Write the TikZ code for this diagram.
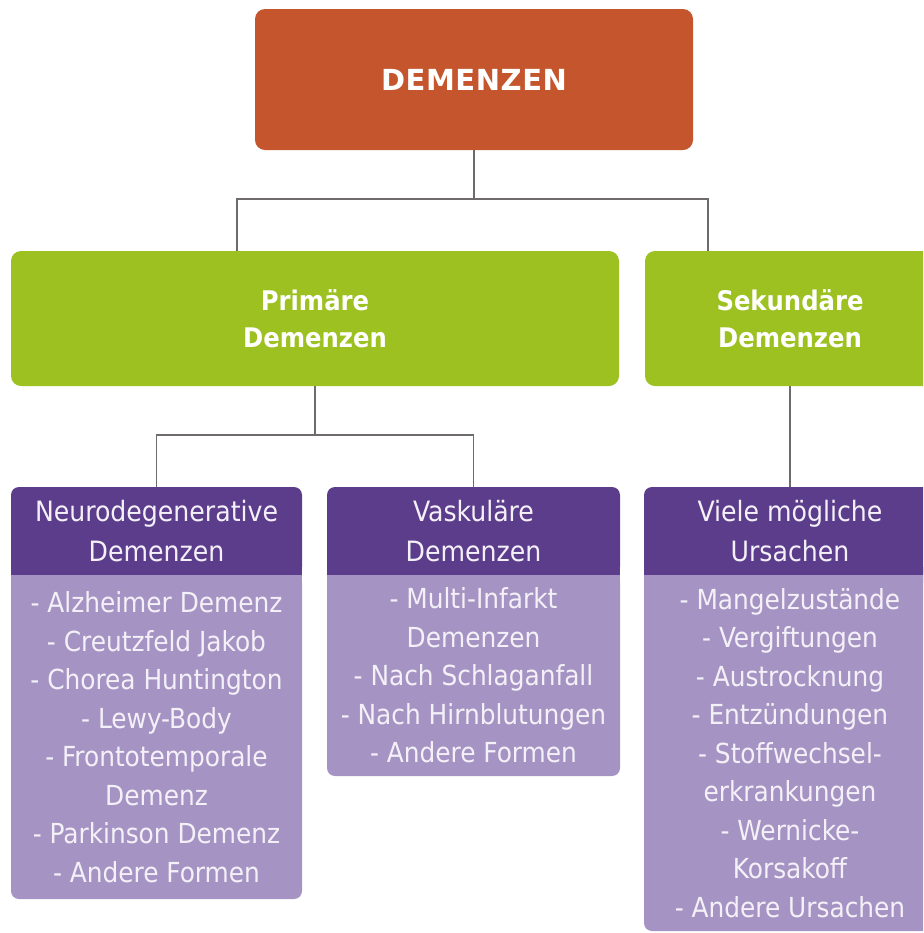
\documentclass[tikz,border=0pt]{standalone}
\usepackage{fontspec}
\setmainfont{DejaVu Sans Condensed}
\newfontfamily\titlefont[LetterSpace=2]{DejaVu Sans}
\usetikzlibrary{positioning}
\definecolor{demorange}{HTML}{C4552C}
\definecolor{demgreen}{HTML}{9DC120}
\definecolor{hdpurple}{HTML}{5C3D8C}
\definecolor{bdpurple}{HTML}{A594C3}
\definecolor{conngray}{HTML}{6E6A6E}
\definecolor{txtlight}{HTML}{F4F0F8}

\begin{document}
\begin{tikzpicture}[x=0.5pt,y=-0.5pt,
  every node/.style={align=center,inner sep=0pt,outer sep=0pt},
  topbox/.style={fill=demorange,rounded corners=5pt,text=white,
    font=\titlefont\bfseries\fontsize{14.5}{18}\selectfont},
  grbox/.style={fill=demgreen,rounded corners=5pt,minimum height=67.5pt,
    text=white,font=\bfseries\fontsize{13.5}{18.5}\selectfont},
  hdbox/.style={fill=hdpurple,rounded corners=4pt,minimum height=44pt,
    text=txtlight,font=\fontsize{14}{20}\selectfont},
  bdbox/.style={fill=bdpurple,rounded corners=4pt,text=txtlight,
    font=\fontsize{13.8}{19.25}\selectfont},
  conn/.style={draw=conngray,line width=0.6pt}
]
  \useasboundingbox (0,0) rectangle (923,933);
  \clip (0,0) rectangle (923,933);

  % top level
  \node[topbox,minimum width=219pt,minimum height=70.5pt] (dem) at (474,79.5)
    {DEMENZEN};

  % second level
  \node[grbox,minimum width=304pt] (prim) at (315,318.5) {Primäre\\Demenzen};
  \node[grbox,minimum width=145pt] (sek) at (790,318.5) {Sekundäre\\Demenzen};

  % third level: headers
  \node[hdbox,minimum width=145.5pt] (neurohd) at (156.5,531)
    {Neurodegenerative\\Demenzen};
  \node[hdbox,minimum width=146.5pt] (vaskhd) at (473.5,531)
    {Vaskuläre\\Demenzen};
  \node[hdbox,minimum width=146pt] (vielehd) at (790,531)
    {Viele mögliche\\Ursachen};

  % third level: lists
  \node[bdbox,minimum width=145.5pt,minimum height=162pt,below=0pt of neurohd]
    (neurobd) {- Alzheimer Demenz\\- Creutzfeld Jakob\\- Chorea Huntington\\
    - Lewy-Body\\- Frontotemporale\\Demenz\\- Parkinson Demenz\\- Andere Formen};
  \node[bdbox,minimum width=146.5pt,minimum height=100.5pt,below=0pt of vaskhd]
    (vaskbd) {- Multi-Infarkt\\Demenzen\\- Nach Schlaganfall\\
    - Nach Hirnblutungen\\- Andere Formen};
  \node[bdbox,minimum width=146pt,minimum height=178pt,below=0pt of vielehd]
    (vielebd) {- Mangelzustände\\- Vergiftungen\\- Austrocknung\\
    - Entzündungen\\- Stoffwechsel-\\erkrankungen\\- Wernicke-\\Korsakoff\\
    - Andere Ursachen};

  % square off the seams between header and list
  \foreach \c in {neuro,vask,viele} {
    \fill[hdpurple] ([yshift=4pt]\c hd.south west) rectangle (\c hd.south east);
    \fill[bdpurple] (\c bd.north west) rectangle ([yshift=-4pt]\c bd.north east);
  }

  % connectors
  \coordinate (jl) at (237,199);
  \coordinate (jr) at (708,199);
  \coordinate (kk) at (315,435);
  \draw[conn] (dem.south) -- (dem.south |- jl);
  \draw[conn] (prim.north -| jl) -- (jl) -- (jr) -- (sek.north -| jr);
  \draw[conn] (prim.south) -- (kk);
  \draw[conn] (neurohd.north) |- (kk) -| (vaskhd.north);
  \draw[conn] (sek.south) -- (vielehd.north);
\end{tikzpicture}
\end{document}
